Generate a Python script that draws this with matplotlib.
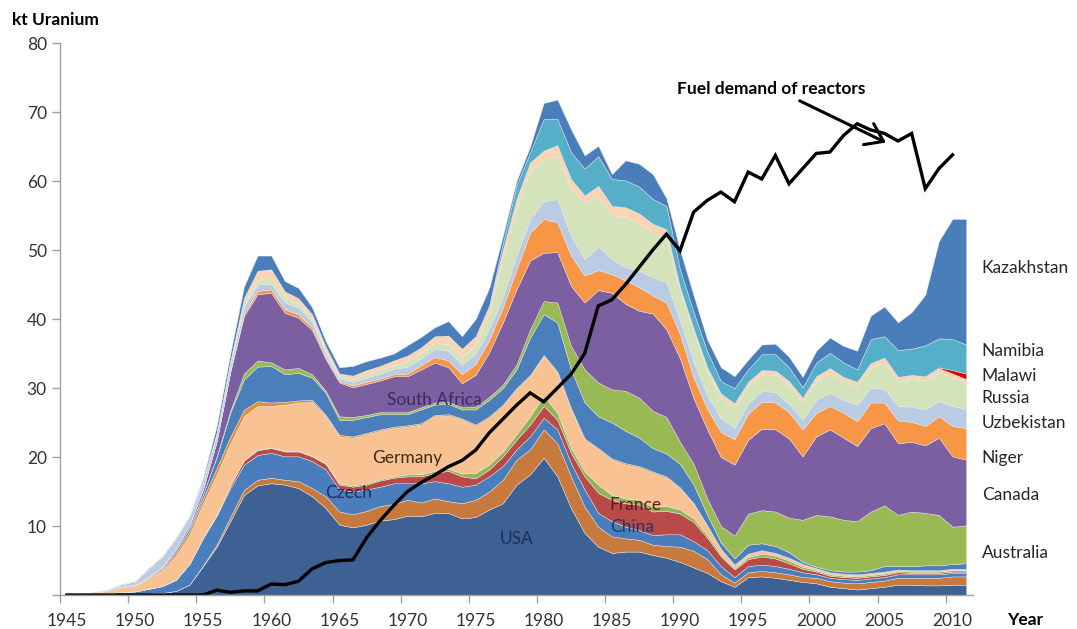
import numpy as np
import matplotlib
matplotlib.use("Agg")
import matplotlib.pyplot as plt

plt.rcParams["font.family"] = ["Lato", "DejaVu Sans"]

years = list(range(1945, 2012))

# kt uranium per producer, 1945 .. 2011
usa = [0, 0, 0.03, 0.07, 0.12, 0.12, 0.2, 0.3, 0.6, 1.5,
       4.2, 7.0, 10.7, 14.5, 15.9, 16.2, 16.0, 15.5, 14.3, 12.6,
       10.2, 9.8, 10.2, 10.8, 11.0, 11.5, 11.4, 11.9, 11.9, 11.1,
       11.3, 12.4, 13.3, 16.0, 17.5, 19.9, 17.2, 12.6, 9.0, 7.0,
       6.1, 6.3, 6.3, 5.8, 5.4, 4.8, 4.0, 3.2, 2.0, 1.2,
       2.6, 2.7, 2.5, 2.2, 1.9, 1.7, 1.2, 1.0, 0.8, 1.0,
       1.2, 1.5, 1.5, 1.4, 1.4, 1.5, 1.5]
china = [0, 0, 0, 0, 0, 0, 0, 0, 0, 0,
         0.1, 0.3, 0.6, 0.75, 0.8, 0.8, 0.7, 1.0, 1.2, 1.7,
         1.9, 1.9, 2.0, 2.1, 2.2, 2.3, 2.0, 2.1, 1.7, 2.2,
         2.5, 2.6, 3.4, 3.6, 3.6, 4.1, 4.8, 4.6, 3.8, 2.9,
         2.4, 1.9, 1.7, 1.5, 1.7, 2.2, 2.4, 2.0, 1.0, 0.6,
         0.7, 0.8, 0.8, 0.8, 0.7, 0.8, 0.8, 0.8, 0.9, 0.9,
         0.9, 1.0, 1.0, 1.1, 1.1, 1.2, 1.2]
czech = [0.02, 0.06, 0.12, 0.22, 0.35, 0.4, 0.7, 1.0, 1.6, 3.0,
         4.0, 4.2, 4.2, 3.65, 3.6, 3.6, 3.4, 3.6, 3.9, 3.9,
         3.2, 3.3, 3.1, 2.8, 3.0, 2.4, 2.8, 2.5, 2.6, 2.4,
         2.2, 2.2, 2.0, 1.5, 1.9, 1.7, 2.0, 1.9, 2.5, 2.0,
         2.2, 1.7, 1.4, 1.4, 1.7, 1.8, 1.4, 1.3, 1.2, 0.8,
         0.9, 0.9, 0.9, 0.8, 0.7, 0.5, 0.5, 0.5, 0.5, 0.5,
         0.5, 0.5, 0.5, 0.5, 0.5, 0.5, 0.5]
france = [0, 0, 0, 0, 0, 0, 0, 0, 0, 0,
          0, 0.1, 0.4, 0.6, 0.7, 0.7, 0.7, 0.7, 0.7, 0.8,
          0.7, 0.7, 0.7, 0.9, 0.8, 1.0, 1.0, 1.2, 1.8, 1.5,
          0.9, 1.0, 1.4, 1.4, 1.7, 1.7, 1.4, 1.5, 1.9, 2.9,
          3.1, 3.4, 3.7, 3.4, 3.4, 3.0, 2.8, 1.8, 1.4, 1.1,
          1.0, 1.2, 1.1, 0.8, 0.5, 0.4, 0.3, 0.3, 0.3, 0.3,
          0.3, 0.3, 0.2, 0.2, 0.2, 0.2, 0.2]
gabon = [0, 0, 0, 0, 0, 0, 0, 0, 0, 0,
         0, 0, 0, 0.05, 0.1, 0.1, 0.1, 0.1, 0.1, 0.1,
         0.2, 0.2, 0.2, 0.2, 0.2, 0.3, 0.3, 0.3, 0.3, 0.4,
         0.8, 0.7, 0.7, 0.8, 1.2, 1.5, 1.0, 0.7, 0.7, 1.2,
         0.7, 0.7, 0.7, 0.7, 0.7, 0.6, 0.5, 0.4, 0.3, 0.2,
         0.3, 0.4, 0.4, 0.4, 0.3, 0.2, 0.2, 0.2, 0.2, 0.2,
         0.2, 0.2, 0.2, 0.2, 0.2, 0.2, 0.2]
germany = [0.03, 0.1, 0.2, 0.35, 0.7, 0.85, 1.5, 2.3, 3.5, 4.2,
           5.0, 5.9, 6.1, 6.4, 6.3, 6.0, 6.7, 7.0, 7.8, 6.8,
           6.8, 6.9, 7.1, 7.0, 7.0, 6.9, 7.2, 7.9, 7.7, 7.8,
           6.8, 6.8, 6.6, 6.5, 5.8, 5.7, 5.8, 5.6, 4.6, 5.1,
           5.1, 4.9, 4.7, 4.9, 4.1, 3.0, 2.1, 1.3, 0.7, 0.4,
           0.4, 0.4, 0.3, 0.3, 0.3, 0.2, 0.2, 0.2, 0.2, 0.2,
           0.2, 0.1, 0.1, 0.1, 0.1, 0.1, 0.1]
other_a = [0, 0, 0, 0, 0.03, 0.05, 0.12, 0.25, 0.45, 0.6,
           0.75, 0.9, 0.95, 0.9, 0.7, 0.5, 0.4, 0.3, 0.3, 0.2,
           0.2, 0.2, 0.2, 0.2, 0.2, 0.2, 0.2, 0.2, 0.2, 0.2,
           0.2, 0.2, 0.2, 0.2, 0.2, 0.2, 0.2, 0.2, 0.2, 0.2,
           0.2, 0.2, 0.2, 0.2, 0.2, 0.2, 0.1, 0.1, 0.1, 0.1,
           0.1, 0.1, 0.1, 0.1, 0.1, 0.1, 0.1, 0.1, 0.1, 0.1,
           0.1, 0.1, 0.1, 0.1, 0.1, 0.1, 0.1]
south_africa = [0, 0, 0, 0, 0, 0.03, 0.08, 0.15, 0.35, 0.45,
                0.6, 1.6, 3.5, 4.4, 5.0, 5.3, 4.0, 4.0, 3.2, 3.2,
                2.2, 2.4, 2.3, 2.2, 1.8, 1.6, 2.0, 1.5, 1.5, 1.3,
                2.2, 2.4, 2.4, 2.7, 5.4, 5.9, 7.1, 5.6, 5.2, 4.6,
                5.2, 4.7, 4.1, 3.4, 3.3, 3.4, 2.7, 1.5, 0.9, 0.9,
                1.3, 1.0, 1.0, 0.8, 0.3, 0.2, 0.3, 0.3, 0.4, 0.4,
                0.8, 0.5, 0.6, 0.7, 0.7, 0.7, 0.8]
australia = [0, 0, 0, 0, 0, 0, 0, 0, 0, 0,
             0, 0.1, 0.3, 0.85, 0.9, 0.5, 0.7, 0.7, 0.5, 0.3,
             0.5, 0.4, 0.3, 0.3, 0.3, 0.3, 0.3, 0.3, 0.3, 0.3,
             0.4, 0.4, 0.5, 0.7, 1.2, 1.9, 2.9, 3.4, 4.8, 4.9,
             4.8, 5.8, 5.8, 5.4, 5.3, 3.2, 3.0, 2.4, 2.4, 3.3,
             4.5, 4.8, 5.0, 5.0, 6.1, 7.5, 7.8, 7.5, 7.3, 8.5,
             8.8, 7.4, 7.9, 7.6, 7.3, 5.4, 5.5]
canada = [0, 0, 0, 0, 0, 0.03, 0.08, 0.12, 0.25, 0.4,
          0.7, 2.2, 5.6, 8.35, 9.6, 10.1, 8.2, 7.3, 6.4, 4.6,
          4.9, 4.3, 4.5, 4.6, 5.2, 5.2, 5.5, 5.8, 5.0, 3.5,
          4.6, 6.5, 9.0, 10.9, 10.0, 7.0, 7.3, 8.7, 9.7, 13.4,
          14.0, 12.6, 12.6, 14.1, 12.7, 12.1, 9.5, 10.0, 10.0, 10.3,
          10.7, 11.8, 11.9, 11.5, 9.2, 11.4, 12.6, 11.9, 10.9, 12.1,
          11.9, 10.4, 10.1, 9.8, 11.2, 10.2, 9.5]
niger = [0, 0, 0, 0, 0, 0, 0, 0, 0, 0,
         0, 0, 0.1, 0.35, 0.5, 0.5, 0.5, 0.5, 0.4, 0.3,
         0.2, 0.3, 0.3, 0.3, 0.3, 0.4, 0.6, 0.8, 1.0, 1.3,
         1.6, 1.8, 2.2, 2.9, 4.0, 4.9, 4.3, 4.4, 3.9, 2.9,
         2.7, 3.4, 3.4, 2.6, 3.9, 3.5, 3.0, 3.0, 3.6, 3.7,
         3.8, 3.9, 3.9, 3.8, 3.9, 3.4, 3.4, 3.6, 3.6, 3.7,
         3.0, 3.3, 2.9, 2.8, 3.1, 4.4, 4.6]
uzbekistan = [0.01, 0.03, 0.06, 0.14, 0.35, 0.5, 1.2, 1.5, 1.5, 1.3,
              1.2, 1.0, 1.0, 1.0, 0.9, 0.8, 1.0, 1.0, 0.8, 0.5,
              0.4, 0.5, 0.6, 0.7, 0.8, 1.0, 1.0, 1.2, 1.4, 1.4,
              1.5, 1.6, 1.5, 2.0, 2.0, 2.6, 3.4, 2.9, 2.4, 3.4,
              2.2, 1.9, 2.4, 2.7, 2.9, 2.0, 2.3, 2.0, 2.0, 1.6,
              1.5, 1.6, 1.5, 1.2, 1.4, 1.9, 1.9, 1.9, 2.4, 2.1,
              2.0, 2.1, 2.2, 2.4, 2.2, 2.9, 2.7]
russia = [0, 0, 0, 0, 0, 0, 0, 0, 0, 0,
          0, 0, 0.15, 0.4, 0.7, 0.9, 0.8, 0.6, 0.5, 0.4,
          0.3, 0.4, 0.5, 0.5, 0.5, 0.8, 0.8, 0.8, 1.0, 1.1,
          1.2, 2.2, 5.8, 6.8, 7.0, 5.9, 6.3, 6.8, 8.2, 7.3,
          6.3, 7.3, 6.8, 6.5, 6.3, 4.2, 4.2, 3.5, 3.0, 2.9,
          2.5, 2.4, 2.5, 2.7, 2.6, 2.7, 2.9, 2.7, 2.7, 2.9,
          3.8, 3.6, 4.0, 4.2, 4.2, 4.1, 3.9]
other_b = [0, 0, 0, 0, 0, 0, 0, 0, 0, 0,
           0.15, 0.3, 0.4, 0.85, 1.3, 1.2, 0.8, 0.7, 0.6, 0.6,
           0.4, 0.5, 0.6, 0.6, 0.7, 0.8, 0.8, 1.0, 1.2, 1.2,
           1.3, 1.2, 1.0, 1.4, 1.2, 1.4, 1.5, 1.4, 1.0, 1.5,
           1.4, 1.4, 1.5, 1.2, 1.4, 0.6, 0.6, 0.5, 0.6, 0.7,
           0.6, 0.6, 0.6, 0.6, 0.6, 0.7, 0.7, 0.6, 0.6, 0.7,
           0.7, 0.6, 0.6, 0.6, 0.6, 0.6, 0.5]
malawi = [0] * 64 + [0.1, 0.5, 0.8]
namibia = [0, 0, 0, 0, 0, 0, 0, 0, 0, 0,
           0, 0, 0, 0, 0, 0, 0, 0, 0, 0,
           0, 0, 0, 0, 0, 0, 0, 0, 0, 0,
           0, 0, 1.0, 2.0, 1.5, 4.6, 3.8, 3.9, 3.9, 4.3,
           3.9, 3.9, 3.9, 3.6, 3.4, 2.6, 2.4, 2.3, 1.8, 2.2,
           1.8, 2.3, 2.4, 2.0, 1.5, 2.0, 2.2, 2.1, 1.8, 3.5,
           3.1, 3.9, 3.8, 4.5, 4.2, 4.5, 4.2]
kazakhstan = [0, 0, 0, 0, 0, 0, 0, 0, 0, 0,
              0.3, 0.9, 1.0, 1.65, 2.2, 2.0, 1.5, 1.5, 1.0, 0.8,
              0.9, 1.4, 1.3, 1.2, 1.0, 1.5, 1.5, 1.3, 2.1, 1.8,
              2.5, 2.5, 1.0, 0.6, 0.8, 2.3, 2.8, 3.3, 1.9, 1.5,
              0.7, 2.9, 3.3, 3.6, 1.1, 2.8, 2.4, 1.7, 2.0, 1.7,
              1.4, 1.4, 1.5, 1.5, 1.5, 1.7, 2.2, 2.4, 2.7, 3.4,
              4.3, 4.0, 5.3, 7.3, 14.1, 17.4, 18.2]

# fuel demand of reactors, kt uranium (no value for 2011)
demand = [0, 0, 0, 0, 0, 0, 0, 0, 0, 0,
          0, 0.7, 0.4, 0.6, 0.6, 1.6, 1.5, 2.0, 3.8, 4.7,
          5.0, 5.1, 8.3, 10.8, 13.0, 15.0, 16.3, 17.4, 18.6, 19.5,
          21.0, 23.5, 25.5, 27.5, 29.3, 28.0, 30.0, 32.0, 35.0, 41.9,
          42.8, 45.0, 47.5, 50.0, 52.3, 49.9, 55.5, 57.2, 58.4, 57.0,
          61.3, 60.3, 63.7, 59.6, 61.8, 64.0, 64.2, 66.6, 68.3, 67.4,
          66.9, 65.8, 66.9, 58.9, 61.8, 63.8, np.nan]

layers = [usa, china, czech, france, gabon, germany, other_a, south_africa,
          australia, canada, niger, uzbekistan, russia, other_b, malawi,
          namibia, kazakhstan]
colors = ["#3e6194", "#c87a3e", "#4a7dbb", "#b94a47", "#93b455", "#f9c292",
          "#e58b3a", "#4b7fbc", "#98b954", "#7c5fa1", "#f79646", "#b9cce4",
          "#d5e3ba", "#fbd4b4", "#e00000", "#55afc8", "#4a7ebb"]

fig = plt.figure(figsize=(10.77, 6.29), dpi=100)
ax = fig.add_axes([0.0557, 0.054, 0.8477, 0.8776])

ax.stackplot(years, *layers, colors=colors, linewidth=0.3, edgecolor="#e8e8e8")
ax.plot(years, demand, color="black", lw=2.4, solid_joinstyle="miter")

ax.set_xlim(1944.5, 2011.5)
ax.set_ylim(0, 80)

# Excel category axis: labels on the years, tick marks between them
tick_years = list(range(1945, 2011, 5))
ax.set_xticks(tick_years)
ax.set_xticklabels([str(y) for y in tick_years])
ax.set_xticks([y - 0.5 for y in tick_years], minor=True)
ax.tick_params(axis="x", which="major", length=0, pad=13)
ax.tick_params(axis="x", which="minor", length=6, color="#a0a0a0", width=1)

ax.set_yticks(range(0, 81, 10))
ax.set_yticklabels([""] + [str(v) for v in range(10, 81, 10)])
ax.tick_params(axis="both", which="major", labelsize=12.5,
               labelcolor="#333333")
ax.tick_params(axis="y", color="#a0a0a0", length=6, width=1)

for side in ["top", "right"]:
    ax.spines[side].set_visible(False)
for side in ["left", "bottom"]:
    ax.spines[side].set_color("#a0a0a0")
    ax.spines[side].set_linewidth(1)

fig.text(0.011, 0.968, "kt Uranium", fontsize=12.5, fontweight="bold",
         va="center", ha="left")
fig.text(0.935, 0.0143, "Year", fontsize=12.5, fontweight="bold",
         va="center", ha="left")

# labels inside the stack
ax.text(1972.0, 28.3, "South Africa", fontsize=12.5, color="#3b2b62",
        ha="center", va="center")
ax.text(1970.0, 19.9, "Germany", fontsize=12.5, color="#3d2b1c",
        ha="center", va="center")
ax.text(1965.7, 14.8, "Czech", fontsize=12.5, color="#1f2d5c",
        ha="center", va="center")
ax.text(1978.0, 8.1, "USA", fontsize=12.5, color="#1c2f5c",
        ha="center", va="center")
ax.text(1986.7, 13.1, "France", fontsize=12.5, color="#5c1b1b",
        ha="center", va="center")
ax.text(1986.5, 9.9, "China", fontsize=12.5, color="#1f3864",
        ha="center", va="center")

# country names on the right
right_names = ["Kazakhstan", "Namibia", "Malawi", "Russia", "Uzbekistan",
               "Niger", "Canada", "Australia"]
right_pos = [47.4, 35.3, 31.8, 28.5, 24.9, 19.8, 14.5, 6.1]
for name, v in zip(right_names, right_pos):
    ax.text(2012.15, v, name, fontsize=12.5, color="#262626",
            ha="left", va="center", clip_on=False)

ax.text(1989.8, 73.4, "Fuel demand of reactors", fontsize=12.5,
        fontweight="bold", ha="left", va="center")
ax.annotate("", xy=(2005.3, 65.4), xytext=(1998.6, 71.8),
            arrowprops=dict(arrowstyle="->,head_length=0.5,head_width=0.35",
                            lw=2.2, color="black", mutation_scale=24))

fig.savefig("out.png", dpi=100)
